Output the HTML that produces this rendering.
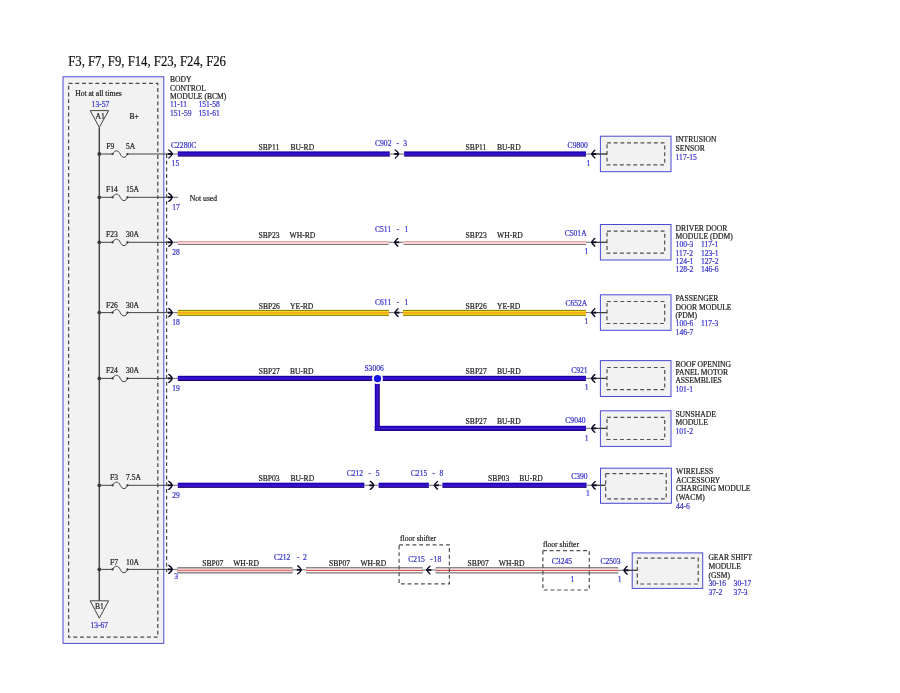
<!DOCTYPE html>
<html><head><meta charset="utf-8"><title>F3, F7, F9, F14, F23, F24, F26</title>
<style>
html,body{margin:0;padding:0;background:#fff;}
body{width:900px;height:693px;overflow:hidden;}
svg{display:block;font-family:"Liberation Serif","DejaVu Serif",serif;}
svg text{white-space:pre;}
</style></head><body>
<svg width="900" height="693" viewBox="0 0 900 693">
<defs>
<linearGradient id="gb" x1="0" y1="0" x2="0" y2="1"><stop offset="0" stop-color="#12009a"/><stop offset="0.22" stop-color="#1e06b4"/><stop offset="0.5" stop-color="#4016d6"/><stop offset="0.75" stop-color="#300eb4"/><stop offset="1" stop-color="#140056"/></linearGradient>
<linearGradient id="gbv" x1="0" y1="0" x2="1" y2="0"><stop offset="0" stop-color="#12009a"/><stop offset="0.22" stop-color="#1e06b4"/><stop offset="0.5" stop-color="#4016d6"/><stop offset="0.75" stop-color="#300eb4"/><stop offset="1" stop-color="#140056"/></linearGradient>
<linearGradient id="gy" x1="0" y1="0" x2="0" y2="1"><stop offset="0" stop-color="#8f8210"/><stop offset="0.2" stop-color="#e6c81a"/><stop offset="0.38" stop-color="#f6d818"/><stop offset="0.5" stop-color="#f0a21c"/><stop offset="0.62" stop-color="#f6d818"/><stop offset="0.8" stop-color="#e0c21a"/><stop offset="1" stop-color="#857810"/></linearGradient>
</defs>
<rect width="900" height="693" fill="#fff"/>
<text x="68.2" y="65.6" fill="#111" stroke="#111" stroke-width="0.2" font-size="14" textLength="157.8" lengthAdjust="spacingAndGlyphs">F3, F7, F9, F14, F23, F24, F26</text>
<rect x="63" y="76.8" width="100.8" height="566.6" fill="#f2f2f2" stroke="#4c4ad2" stroke-width="1"/>
<rect x="68.6" y="83.4" width="89.2" height="553.8" fill="none" stroke="#4a4a4a" stroke-width="1.25" stroke-dasharray="3.9 2.8"/>
<path d="M166.6 154V572" stroke="#4a4a4a" stroke-width="1.25" stroke-dasharray="3.9 2.8" fill="none"/>
<text x="75.2" y="95.6" fill="#222" stroke="#222" stroke-width="0.2" font-size="7.6" >Hot at all times</text>
<text x="91.6" y="106.8" fill="#3a36cc" stroke="#3a36cc" stroke-width="0.22" font-size="7.6" >13-57</text>
<text x="129.4" y="119.4" fill="#222" stroke="#222" stroke-width="0.2" font-size="7.6" >B+</text>
<path d="M90.2 110.6H108.6L99.3 127.4Z" fill="none" stroke="#444" stroke-width="1"/>
<text x="95.6" y="119" fill="#222" stroke="#222" stroke-width="0.2" font-size="7.6" >A1</text>
<path d="M99.3 127.4V600.8" stroke="#4a4a4a" stroke-width="1.5" fill="none"/>
<path d="M90.2 600.8H108.6L99.3 618.2Z" fill="none" stroke="#444" stroke-width="1"/>
<text x="94.9" y="608.6" fill="#222" stroke="#222" stroke-width="0.2" font-size="7.6" >B1</text>
<text x="90.4" y="628.1" fill="#3a36cc" stroke="#3a36cc" stroke-width="0.22" font-size="7.6" >13-67</text>
<text x="170" y="82.3" fill="#222" stroke="#222" stroke-width="0.2" font-size="7.6" >BODY</text>
<text x="170" y="90.7" fill="#222" stroke="#222" stroke-width="0.2" font-size="7.6" >CONTROL</text>
<text x="170" y="99" fill="#222" stroke="#222" stroke-width="0.2" font-size="7.6" >MODULE (BCM)</text>
<text x="170" y="107.2" fill="#3a36cc" stroke="#3a36cc" stroke-width="0.22" font-size="7.6" >11-11</text>
<text x="198.4" y="107.2" fill="#3a36cc" stroke="#3a36cc" stroke-width="0.22" font-size="7.6" >151-58</text>
<text x="170" y="115.6" fill="#3a36cc" stroke="#3a36cc" stroke-width="0.22" font-size="7.6" >151-59</text>
<text x="198.4" y="115.6" fill="#3a36cc" stroke="#3a36cc" stroke-width="0.22" font-size="7.6" >151-61</text>
<circle cx="99.3" cy="154.0" r="1.9" fill="#3a3a3a"/>
<path d="M99.3 154.0H112.6C114.5 149.8 118.5 149.8 120.2 154.0C122 158.4 126 158.4 127.4 154.0H168" stroke="#444" stroke-width="1" fill="none"/>
<circle cx="112.6" cy="154.0" r="1.1" fill="#333"/><circle cx="127.4" cy="154.0" r="1.1" fill="#333"/>
<text x="106.2" y="148.9" fill="#222" stroke="#222" stroke-width="0.2" font-size="7.6" >F9</text>
<text x="126" y="148.9" fill="#222" stroke="#222" stroke-width="0.2" font-size="7.6" >5A</text>
<path d="M167 154.0H178.2" stroke="#777" stroke-width="1.1" fill="none"/>
<path d="M167.8 154.0H172.7" stroke="#0a0a24" stroke-width="1.9" fill="none"/>
<path d="M168.8 150.0Q171.7 151.7 172.1 154.0Q171.7 156.3 168.8 158.0" stroke="#0a0a24" stroke-width="1.4" stroke-linecap="round" fill="none"/>
<text x="171.6" y="166.3" fill="#3a36cc" stroke="#3a36cc" stroke-width="0.22" font-size="7.6" >15</text>
<circle cx="99.3" cy="197.3" r="1.9" fill="#3a3a3a"/>
<path d="M99.3 197.3H112.6C114.5 193.10000000000002 118.5 193.10000000000002 120.2 197.3C122 201.70000000000002 126 201.70000000000002 127.4 197.3H168" stroke="#444" stroke-width="1" fill="none"/>
<circle cx="112.6" cy="197.3" r="1.1" fill="#333"/><circle cx="127.4" cy="197.3" r="1.1" fill="#333"/>
<text x="106" y="192.20000000000002" fill="#222" stroke="#222" stroke-width="0.2" font-size="7.6" >F14</text>
<text x="126" y="192.20000000000002" fill="#222" stroke="#222" stroke-width="0.2" font-size="7.6" >15A</text>
<path d="M167 197.3H178.2" stroke="#777" stroke-width="1.1" fill="none"/>
<path d="M167.8 197.3H172.7" stroke="#0a0a24" stroke-width="1.9" fill="none"/>
<path d="M168.8 193.3Q171.7 195.0 172.1 197.3Q171.7 199.60000000000002 168.8 201.3" stroke="#0a0a24" stroke-width="1.4" stroke-linecap="round" fill="none"/>
<text x="172.2" y="209.8" fill="#3a36cc" stroke="#3a36cc" stroke-width="0.22" font-size="7.6" >17</text>
<circle cx="99.3" cy="242.3" r="1.9" fill="#3a3a3a"/>
<path d="M99.3 242.3H112.6C114.5 238.10000000000002 118.5 238.10000000000002 120.2 242.3C122 246.70000000000002 126 246.70000000000002 127.4 242.3H168" stroke="#444" stroke-width="1" fill="none"/>
<circle cx="112.6" cy="242.3" r="1.1" fill="#333"/><circle cx="127.4" cy="242.3" r="1.1" fill="#333"/>
<text x="106" y="237.20000000000002" fill="#222" stroke="#222" stroke-width="0.2" font-size="7.6" >F23</text>
<text x="126" y="237.20000000000002" fill="#222" stroke="#222" stroke-width="0.2" font-size="7.6" >30A</text>
<path d="M167 242.3H178.2" stroke="#777" stroke-width="1.1" fill="none"/>
<path d="M167.8 242.3H172.7" stroke="#0a0a24" stroke-width="1.9" fill="none"/>
<path d="M168.8 238.3Q171.7 240.0 172.1 242.3Q171.7 244.60000000000002 168.8 246.3" stroke="#0a0a24" stroke-width="1.4" stroke-linecap="round" fill="none"/>
<text x="172.2" y="255.3" fill="#3a36cc" stroke="#3a36cc" stroke-width="0.22" font-size="7.6" >28</text>
<circle cx="99.3" cy="312.6" r="1.9" fill="#3a3a3a"/>
<path d="M99.3 312.6H112.6C114.5 308.40000000000003 118.5 308.40000000000003 120.2 312.6C122 317.0 126 317.0 127.4 312.6H168" stroke="#444" stroke-width="1" fill="none"/>
<circle cx="112.6" cy="312.6" r="1.1" fill="#333"/><circle cx="127.4" cy="312.6" r="1.1" fill="#333"/>
<text x="106" y="307.5" fill="#222" stroke="#222" stroke-width="0.2" font-size="7.6" >F26</text>
<text x="126" y="307.5" fill="#222" stroke="#222" stroke-width="0.2" font-size="7.6" >30A</text>
<path d="M167 312.6H178.2" stroke="#777" stroke-width="1.1" fill="none"/>
<path d="M167.8 312.6H172.7" stroke="#0a0a24" stroke-width="1.9" fill="none"/>
<path d="M168.8 308.6Q171.7 310.3 172.1 312.6Q171.7 314.90000000000003 168.8 316.6" stroke="#0a0a24" stroke-width="1.4" stroke-linecap="round" fill="none"/>
<text x="172.2" y="325.4" fill="#3a36cc" stroke="#3a36cc" stroke-width="0.22" font-size="7.6" >18</text>
<circle cx="99.3" cy="378.4" r="1.9" fill="#3a3a3a"/>
<path d="M99.3 378.4H112.6C114.5 374.2 118.5 374.2 120.2 378.4C122 382.79999999999995 126 382.79999999999995 127.4 378.4H168" stroke="#444" stroke-width="1" fill="none"/>
<circle cx="112.6" cy="378.4" r="1.1" fill="#333"/><circle cx="127.4" cy="378.4" r="1.1" fill="#333"/>
<text x="106" y="373.29999999999995" fill="#222" stroke="#222" stroke-width="0.2" font-size="7.6" >F24</text>
<text x="126" y="373.29999999999995" fill="#222" stroke="#222" stroke-width="0.2" font-size="7.6" >30A</text>
<path d="M167 378.4H178.2" stroke="#777" stroke-width="1.1" fill="none"/>
<path d="M167.8 378.4H172.7" stroke="#0a0a24" stroke-width="1.9" fill="none"/>
<path d="M168.8 374.4Q171.7 376.09999999999997 172.1 378.4Q171.7 380.7 168.8 382.4" stroke="#0a0a24" stroke-width="1.4" stroke-linecap="round" fill="none"/>
<text x="172.2" y="391.0" fill="#3a36cc" stroke="#3a36cc" stroke-width="0.22" font-size="7.6" >19</text>
<circle cx="99.3" cy="485.3" r="1.9" fill="#3a3a3a"/>
<path d="M99.3 485.3H112.6C114.5 481.1 118.5 481.1 120.2 485.3C122 489.7 126 489.7 127.4 485.3H168" stroke="#444" stroke-width="1" fill="none"/>
<circle cx="112.6" cy="485.3" r="1.1" fill="#333"/><circle cx="127.4" cy="485.3" r="1.1" fill="#333"/>
<text x="110" y="480.2" fill="#222" stroke="#222" stroke-width="0.2" font-size="7.6" >F3</text>
<text x="126" y="480.2" fill="#222" stroke="#222" stroke-width="0.2" font-size="7.6" >7.5A</text>
<path d="M167 485.3H178.2" stroke="#777" stroke-width="1.1" fill="none"/>
<path d="M167.8 485.3H172.7" stroke="#0a0a24" stroke-width="1.9" fill="none"/>
<path d="M168.8 481.3Q171.7 483.0 172.1 485.3Q171.7 487.6 168.8 489.3" stroke="#0a0a24" stroke-width="1.4" stroke-linecap="round" fill="none"/>
<text x="172.2" y="497.8" fill="#3a36cc" stroke="#3a36cc" stroke-width="0.22" font-size="7.6" >29</text>
<circle cx="99.3" cy="569.4" r="1.9" fill="#3a3a3a"/>
<path d="M99.3 569.4H112.6C114.5 565.1999999999999 118.5 565.1999999999999 120.2 569.4C122 573.8 126 573.8 127.4 569.4H168" stroke="#444" stroke-width="1" fill="none"/>
<circle cx="112.6" cy="569.4" r="1.1" fill="#333"/><circle cx="127.4" cy="569.4" r="1.1" fill="#333"/>
<text x="110" y="565.1" fill="#222" stroke="#222" stroke-width="0.2" font-size="7.6" >F7</text>
<text x="126" y="565.1" fill="#222" stroke="#222" stroke-width="0.2" font-size="7.6" >10A</text>
<path d="M167 569.4H178.2" stroke="#777" stroke-width="1.1" fill="none"/>
<path d="M167.8 569.4H172.7" stroke="#0a0a24" stroke-width="1.9" fill="none"/>
<path d="M168.8 565.4Q171.7 567.1 172.1 569.4Q171.7 571.6999999999999 168.8 573.4" stroke="#0a0a24" stroke-width="1.4" stroke-linecap="round" fill="none"/>
<text x="174.3" y="579.4" fill="#3a36cc" stroke="#3a36cc" stroke-width="0.22" font-size="7.6" >3</text>
<text x="171" y="147.8" fill="#3a36cc" stroke="#3a36cc" stroke-width="0.22" font-size="7.6" >C2280C</text>
<text x="189.8" y="200.6" fill="#222" stroke="#222" stroke-width="0.2" font-size="7.6" >Not used</text>
<rect x="177.8" y="151.4" width="212.0" height="5.2" fill="url(#gb)"/>
<path d="M389.8 154.0H404.1" stroke="#777" stroke-width="1.1" fill="none"/>
<path d="M394.2 154.0H399.09999999999997" stroke="#0a0a24" stroke-width="1.9" fill="none"/>
<path d="M395.2 150.0Q398.09999999999997 151.7 398.5 154.0Q398.09999999999997 156.3 395.2 158.0" stroke="#0a0a24" stroke-width="1.4" stroke-linecap="round" fill="none"/>
<rect x="404.1" y="151.4" width="181.89999999999998" height="5.2" fill="url(#gb)"/>
<text x="258.5" y="149.6" fill="#222" stroke="#222" stroke-width="0.2" font-size="7.6" >SBP11</text>
<text x="290.5" y="149.6" fill="#222" stroke="#222" stroke-width="0.2" font-size="7.6" >BU-RD</text>
<text x="375" y="145.6" fill="#3a36cc" stroke="#3a36cc" stroke-width="0.22" font-size="7.6" >C902</text>
<text x="396.4" y="145.6" fill="#3a36cc" stroke="#3a36cc" stroke-width="0.22" font-size="7.6" >-</text>
<text x="403.3" y="145.6" fill="#3a36cc" stroke="#3a36cc" stroke-width="0.22" font-size="7.6" >3</text>
<text x="465.6" y="149.6" fill="#222" stroke="#222" stroke-width="0.2" font-size="7.6" >SBP11</text>
<text x="497" y="149.6" fill="#222" stroke="#222" stroke-width="0.2" font-size="7.6" >BU-RD</text>
<text x="567.6" y="147.6" fill="#3a36cc" stroke="#3a36cc" stroke-width="0.22" font-size="7.6" >C9800</text>
<text x="586.6" y="165.6" fill="#3a36cc" stroke="#3a36cc" stroke-width="0.22" font-size="7.6" >1</text>
<rect x="600.4" y="136.2" width="70.6" height="35.5" fill="#f2f2f2" stroke="#4c4ad2" stroke-width="1"/>
<rect x="607.0" y="142.9" width="57.700000000000045" height="22.0" fill="none" stroke="#505050" stroke-width="1.2" stroke-dasharray="3.9 2.8"/>
<path d="M586 154.0H607" stroke="#777" stroke-width="1.1" fill="none"/>
<path d="M594 154.0H607" stroke="#3a3a3a" stroke-width="1.1" fill="none"/>
<path d="M591.3 154.0H596.2" stroke="#0a0a24" stroke-width="1.9" fill="none"/>
<path d="M594.8 150.2Q592.5 152.0 591.7 154.0Q592.5 156.0 594.8 157.8" stroke="#0a0a24" stroke-width="1.4" stroke-linecap="round" fill="none"/>
<text x="675.6" y="142.4" fill="#222" stroke="#222" stroke-width="0.2" font-size="7.6" >INTRUSION</text>
<text x="675.6" y="151" fill="#222" stroke="#222" stroke-width="0.2" font-size="7.6" >SENSOR</text>
<text x="675.6" y="159.6" fill="#3a36cc" stroke="#3a36cc" stroke-width="0.22" font-size="7.6" >117-15</text>
<rect x="177.8" y="241.0" width="210.8" height="3.2" fill="#f6d4d4"/>
<rect x="177.8" y="241.0" width="210.8" height="1.1" fill="#e8a2a2"/>
<rect x="177.8" y="244.10000000000002" width="210.8" height="0.8" fill="#5c5252"/>
<path d="M388.6 242.3H403.6" stroke="#777" stroke-width="1.1" fill="none"/>
<path d="M394.3 242.3H399.2" stroke="#0a0a24" stroke-width="1.9" fill="none"/>
<path d="M397.8 238.5Q395.5 240.3 394.7 242.3Q395.5 244.3 397.8 246.10000000000002" stroke="#0a0a24" stroke-width="1.4" stroke-linecap="round" fill="none"/>
<rect x="403.6" y="241.0" width="182.39999999999998" height="3.2" fill="#f6d4d4"/>
<rect x="403.6" y="241.0" width="182.39999999999998" height="1.1" fill="#e8a2a2"/>
<rect x="403.6" y="244.10000000000002" width="182.39999999999998" height="0.8" fill="#5c5252"/>
<text x="258.5" y="237.9" fill="#222" stroke="#222" stroke-width="0.2" font-size="7.6" >SBP23</text>
<text x="289.5" y="237.9" fill="#222" stroke="#222" stroke-width="0.2" font-size="7.6" >WH-RD</text>
<text x="375" y="232.4" fill="#3a36cc" stroke="#3a36cc" stroke-width="0.22" font-size="7.6" >C511</text>
<text x="396.8" y="232.4" fill="#3a36cc" stroke="#3a36cc" stroke-width="0.22" font-size="7.6" >-</text>
<text x="404.4" y="232.4" fill="#3a36cc" stroke="#3a36cc" stroke-width="0.22" font-size="7.6" >1</text>
<text x="465.6" y="237.9" fill="#222" stroke="#222" stroke-width="0.2" font-size="7.6" >SBP23</text>
<text x="497" y="237.9" fill="#222" stroke="#222" stroke-width="0.2" font-size="7.6" >WH-RD</text>
<text x="564.7" y="235.70000000000002" fill="#3a36cc" stroke="#3a36cc" stroke-width="0.22" font-size="7.6" >C501A</text>
<text x="584.6" y="253.70000000000002" fill="#3a36cc" stroke="#3a36cc" stroke-width="0.22" font-size="7.6" >1</text>
<rect x="600.4" y="224.5" width="70.6" height="35.5" fill="#f2f2f2" stroke="#4c4ad2" stroke-width="1"/>
<rect x="607.0" y="231.20000000000002" width="57.700000000000045" height="22.0" fill="none" stroke="#505050" stroke-width="1.2" stroke-dasharray="3.9 2.8"/>
<path d="M586 242.3H607" stroke="#777" stroke-width="1.1" fill="none"/>
<path d="M594 242.3H607" stroke="#3a3a3a" stroke-width="1.1" fill="none"/>
<path d="M591.3 242.3H596.2" stroke="#0a0a24" stroke-width="1.9" fill="none"/>
<path d="M594.8 238.5Q592.5 240.3 591.7 242.3Q592.5 244.3 594.8 246.10000000000002" stroke="#0a0a24" stroke-width="1.4" stroke-linecap="round" fill="none"/>
<text x="675.6" y="230.8" fill="#222" stroke="#222" stroke-width="0.2" font-size="7.6" >DRIVER DOOR</text>
<text x="675.6" y="239.2" fill="#222" stroke="#222" stroke-width="0.2" font-size="7.6" >MODULE (DDM)</text>
<text x="675.6" y="247.3" fill="#3a36cc" stroke="#3a36cc" stroke-width="0.22" font-size="7.6" >100-3</text>
<text x="700.9" y="247.3" fill="#3a36cc" stroke="#3a36cc" stroke-width="0.22" font-size="7.6" >117-1</text>
<text x="675.6" y="255.65" fill="#3a36cc" stroke="#3a36cc" stroke-width="0.22" font-size="7.6" >117-2</text>
<text x="700.9" y="255.65" fill="#3a36cc" stroke="#3a36cc" stroke-width="0.22" font-size="7.6" >123-1</text>
<text x="675.6" y="264.0" fill="#3a36cc" stroke="#3a36cc" stroke-width="0.22" font-size="7.6" >124-1</text>
<text x="700.9" y="264.0" fill="#3a36cc" stroke="#3a36cc" stroke-width="0.22" font-size="7.6" >127-2</text>
<text x="675.6" y="272.35" fill="#3a36cc" stroke="#3a36cc" stroke-width="0.22" font-size="7.6" >128-2</text>
<text x="700.9" y="272.35" fill="#3a36cc" stroke="#3a36cc" stroke-width="0.22" font-size="7.6" >146-6</text>
<rect x="177.8" y="309.90000000000003" width="211.09999999999997" height="6.0" fill="#857a12"/>
<rect x="177.8" y="310.90000000000003" width="211.09999999999997" height="4.0" fill="#f6da1a"/>
<rect x="177.8" y="312.20000000000005" width="211.09999999999997" height="1.4" fill="#ee9e1c"/>
<path d="M388.9 312.6H403" stroke="#777" stroke-width="1.1" fill="none"/>
<path d="M394.5 312.6H399.4" stroke="#0a0a24" stroke-width="1.9" fill="none"/>
<path d="M398.0 308.8Q395.7 310.6 394.9 312.6Q395.7 314.6 398.0 316.40000000000003" stroke="#0a0a24" stroke-width="1.4" stroke-linecap="round" fill="none"/>
<rect x="403" y="309.90000000000003" width="183" height="6.0" fill="#857a12"/>
<rect x="403" y="310.90000000000003" width="183" height="4.0" fill="#f6da1a"/>
<rect x="403" y="312.20000000000005" width="183" height="1.4" fill="#ee9e1c"/>
<text x="258.7" y="308.70000000000005" fill="#222" stroke="#222" stroke-width="0.2" font-size="7.6" >SBP26</text>
<text x="290.1" y="308.70000000000005" fill="#222" stroke="#222" stroke-width="0.2" font-size="7.6" >YE-RD</text>
<text x="375" y="304.5" fill="#3a36cc" stroke="#3a36cc" stroke-width="0.22" font-size="7.6" >C611</text>
<text x="396.8" y="304.5" fill="#3a36cc" stroke="#3a36cc" stroke-width="0.22" font-size="7.6" >-</text>
<text x="404.6" y="304.5" fill="#3a36cc" stroke="#3a36cc" stroke-width="0.22" font-size="7.6" >1</text>
<text x="465.6" y="308.70000000000005" fill="#222" stroke="#222" stroke-width="0.2" font-size="7.6" >SBP26</text>
<text x="497" y="308.70000000000005" fill="#222" stroke="#222" stroke-width="0.2" font-size="7.6" >YE-RD</text>
<text x="565.4" y="306.20000000000005" fill="#3a36cc" stroke="#3a36cc" stroke-width="0.22" font-size="7.6" >C652A</text>
<text x="584.4" y="324.0" fill="#3a36cc" stroke="#3a36cc" stroke-width="0.22" font-size="7.6" >1</text>
<rect x="600.4" y="294.8" width="70.6" height="35.5" fill="#f2f2f2" stroke="#4c4ad2" stroke-width="1"/>
<rect x="607.0" y="301.5" width="57.700000000000045" height="22.0" fill="none" stroke="#505050" stroke-width="1.2" stroke-dasharray="3.9 2.8"/>
<path d="M586 312.6H607" stroke="#777" stroke-width="1.1" fill="none"/>
<path d="M594 312.6H607" stroke="#3a3a3a" stroke-width="1.1" fill="none"/>
<path d="M591.3 312.6H596.2" stroke="#0a0a24" stroke-width="1.9" fill="none"/>
<path d="M594.8 308.8Q592.5 310.6 591.7 312.6Q592.5 314.6 594.8 316.40000000000003" stroke="#0a0a24" stroke-width="1.4" stroke-linecap="round" fill="none"/>
<text x="675.6" y="301" fill="#222" stroke="#222" stroke-width="0.2" font-size="7.6" >PASSENGER</text>
<text x="675.6" y="309.9" fill="#222" stroke="#222" stroke-width="0.2" font-size="7.6" >DOOR MODULE</text>
<text x="675.6" y="318.2" fill="#222" stroke="#222" stroke-width="0.2" font-size="7.6" >(PDM)</text>
<text x="675.6" y="326.3" fill="#3a36cc" stroke="#3a36cc" stroke-width="0.22" font-size="7.6" >100-6</text>
<text x="700.9" y="326.3" fill="#3a36cc" stroke="#3a36cc" stroke-width="0.22" font-size="7.6" >117-3</text>
<text x="675.6" y="334.9" fill="#3a36cc" stroke="#3a36cc" stroke-width="0.22" font-size="7.6" >146-7</text>
<rect x="177.8" y="375.79999999999995" width="408.2" height="5.2" fill="url(#gb)"/>
<rect x="374.8" y="378.4" width="5.0" height="52.6" fill="url(#gbv)"/>
<rect x="377.3" y="425.79999999999995" width="208.7" height="5.2" fill="url(#gb)"/>
<path d="M374.8 425.79999999999995L379.8 431.0H374.8Z" fill="url(#gbv)"/>
<circle cx="377.5" cy="378.59999999999997" r="4.6" fill="#1414e6" stroke="#fff" stroke-width="1.8"/>
<text x="258.7" y="374.29999999999995" fill="#222" stroke="#222" stroke-width="0.2" font-size="7.6" >SBP27</text>
<text x="289.9" y="374.29999999999995" fill="#222" stroke="#222" stroke-width="0.2" font-size="7.6" >BU-RD</text>
<text x="364.4" y="371.09999999999997" fill="#3a36cc" stroke="#3a36cc" stroke-width="0.22" font-size="7.6" >S3006</text>
<text x="465.6" y="374.0" fill="#222" stroke="#222" stroke-width="0.2" font-size="7.6" >SBP27</text>
<text x="497" y="374.0" fill="#222" stroke="#222" stroke-width="0.2" font-size="7.6" >BU-RD</text>
<text x="571.2" y="372.5" fill="#3a36cc" stroke="#3a36cc" stroke-width="0.22" font-size="7.6" >C921</text>
<text x="584.8" y="390.3" fill="#3a36cc" stroke="#3a36cc" stroke-width="0.22" font-size="7.6" >1</text>
<rect x="600.4" y="360.59999999999997" width="70.6" height="35.900000000000006" fill="#f2f2f2" stroke="#4c4ad2" stroke-width="1"/>
<rect x="607.0" y="367.5" width="57.700000000000045" height="22.200000000000003" fill="none" stroke="#505050" stroke-width="1.2" stroke-dasharray="3.9 2.8"/>
<path d="M586 378.4H607" stroke="#777" stroke-width="1.1" fill="none"/>
<path d="M594 378.4H607" stroke="#3a3a3a" stroke-width="1.1" fill="none"/>
<path d="M591.3 378.4H596.2" stroke="#0a0a24" stroke-width="1.9" fill="none"/>
<path d="M594.8 374.59999999999997Q592.5 376.4 591.7 378.4Q592.5 380.4 594.8 382.2" stroke="#0a0a24" stroke-width="1.4" stroke-linecap="round" fill="none"/>
<text x="675.4" y="366.6" fill="#222" stroke="#222" stroke-width="0.2" font-size="7.6" >ROOF OPENING</text>
<text x="675.4" y="375.1" fill="#222" stroke="#222" stroke-width="0.2" font-size="7.6" >PANEL MOTOR</text>
<text x="675.4" y="383.4" fill="#222" stroke="#222" stroke-width="0.2" font-size="7.6" >ASSEMBLIES</text>
<text x="675.4" y="391.8" fill="#3a36cc" stroke="#3a36cc" stroke-width="0.22" font-size="7.6" >101-1</text>
<text x="465.6" y="424.2" fill="#222" stroke="#222" stroke-width="0.2" font-size="7.6" >SBP27</text>
<text x="497" y="424.2" fill="#222" stroke="#222" stroke-width="0.2" font-size="7.6" >BU-RD</text>
<text x="565.3" y="422.6" fill="#3a36cc" stroke="#3a36cc" stroke-width="0.22" font-size="7.6" >C9040</text>
<text x="584.8" y="440.7" fill="#3a36cc" stroke="#3a36cc" stroke-width="0.22" font-size="7.6" >1</text>
<rect x="600.4" y="410.79999999999995" width="70.6" height="35.6" fill="#f2f2f2" stroke="#4c4ad2" stroke-width="1"/>
<rect x="607.0" y="417.4" width="57.700000000000045" height="22.1" fill="none" stroke="#505050" stroke-width="1.2" stroke-dasharray="3.9 2.8"/>
<path d="M586 428.4H607" stroke="#777" stroke-width="1.1" fill="none"/>
<path d="M594 428.4H607" stroke="#3a3a3a" stroke-width="1.1" fill="none"/>
<path d="M591.3 428.4H596.2" stroke="#0a0a24" stroke-width="1.9" fill="none"/>
<path d="M594.8 424.59999999999997Q592.5 426.4 591.7 428.4Q592.5 430.4 594.8 432.2" stroke="#0a0a24" stroke-width="1.4" stroke-linecap="round" fill="none"/>
<text x="675.4" y="416.8" fill="#222" stroke="#222" stroke-width="0.2" font-size="7.6" >SUNSHADE</text>
<text x="675.4" y="425.4" fill="#222" stroke="#222" stroke-width="0.2" font-size="7.6" >MODULE</text>
<text x="675.4" y="433.5" fill="#3a36cc" stroke="#3a36cc" stroke-width="0.22" font-size="7.6" >101-2</text>
<rect x="177.8" y="482.7" width="186.59999999999997" height="5.2" fill="url(#gb)"/>
<path d="M364.4 485.3H378.6" stroke="#777" stroke-width="1.1" fill="none"/>
<path d="M369.3 485.3H374.2" stroke="#0a0a24" stroke-width="1.9" fill="none"/>
<path d="M370.3 481.3Q373.2 483.0 373.6 485.3Q373.2 487.6 370.3 489.3" stroke="#0a0a24" stroke-width="1.4" stroke-linecap="round" fill="none"/>
<rect x="378.6" y="482.7" width="50.299999999999955" height="5.2" fill="url(#gb)"/>
<path d="M428.9 485.3H442.4" stroke="#777" stroke-width="1.1" fill="none"/>
<path d="M434.0 485.3H438.9" stroke="#0a0a24" stroke-width="1.9" fill="none"/>
<path d="M437.5 481.5Q435.2 483.3 434.4 485.3Q435.2 487.3 437.5 489.1" stroke="#0a0a24" stroke-width="1.4" stroke-linecap="round" fill="none"/>
<rect x="442.4" y="482.7" width="144.20000000000005" height="5.2" fill="url(#gb)"/>
<text x="258.5" y="480.90000000000003" fill="#222" stroke="#222" stroke-width="0.2" font-size="7.6" >SBP03</text>
<text x="290.5" y="480.90000000000003" fill="#222" stroke="#222" stroke-width="0.2" font-size="7.6" >BU-RD</text>
<text x="346.7" y="475.7" fill="#3a36cc" stroke="#3a36cc" stroke-width="0.22" font-size="7.6" >C212</text>
<text x="368.6" y="475.7" fill="#3a36cc" stroke="#3a36cc" stroke-width="0.22" font-size="7.6" >-</text>
<text x="375.8" y="475.7" fill="#3a36cc" stroke="#3a36cc" stroke-width="0.22" font-size="7.6" >5</text>
<text x="410.8" y="475.7" fill="#3a36cc" stroke="#3a36cc" stroke-width="0.22" font-size="7.6" >C215</text>
<text x="432.6" y="475.7" fill="#3a36cc" stroke="#3a36cc" stroke-width="0.22" font-size="7.6" >-</text>
<text x="439.6" y="475.7" fill="#3a36cc" stroke="#3a36cc" stroke-width="0.22" font-size="7.6" >8</text>
<text x="488.1" y="480.90000000000003" fill="#222" stroke="#222" stroke-width="0.2" font-size="7.6" >SBP03</text>
<text x="519.2" y="480.90000000000003" fill="#222" stroke="#222" stroke-width="0.2" font-size="7.6" >BU-RD</text>
<text x="571.2" y="479" fill="#3a36cc" stroke="#3a36cc" stroke-width="0.22" font-size="7.6" >C390</text>
<text x="585.9" y="495.8" fill="#3a36cc" stroke="#3a36cc" stroke-width="0.22" font-size="7.6" >1</text>
<rect x="600.5" y="468.2" width="70.9" height="35.1" fill="#f2f2f2" stroke="#4c4ad2" stroke-width="1"/>
<rect x="605.7" y="473.6" width="60.5" height="25.2" fill="none" stroke="#505050" stroke-width="1.2" stroke-dasharray="3.9 2.8"/>
<path d="M586.6 485.3H605.7" stroke="#777" stroke-width="1.1" fill="none"/>
<path d="M594.4 485.3H605.7" stroke="#3a3a3a" stroke-width="1.1" fill="none"/>
<path d="M591.6999999999999 485.3H596.6" stroke="#0a0a24" stroke-width="1.9" fill="none"/>
<path d="M595.1999999999999 481.5Q592.9 483.3 592.1 485.3Q592.9 487.3 595.1999999999999 489.1" stroke="#0a0a24" stroke-width="1.4" stroke-linecap="round" fill="none"/>
<text x="676" y="473.6" fill="#222" stroke="#222" stroke-width="0.2" font-size="7.6" >WIRELESS</text>
<text x="676" y="482.8" fill="#222" stroke="#222" stroke-width="0.2" font-size="7.6" >ACCESSORY</text>
<text x="676" y="490.8" fill="#222" stroke="#222" stroke-width="0.2" font-size="7.6" >CHARGING MODULE</text>
<text x="676" y="499.7" fill="#222" stroke="#222" stroke-width="0.2" font-size="7.6" >(WACM)</text>
<text x="676" y="508.7" fill="#3a36cc" stroke="#3a36cc" stroke-width="0.22" font-size="7.6" >44-6</text>
<rect x="177.4" y="567.3" width="115.1" height="6.1" fill="#585858"/>
<rect x="177.4" y="568.3" width="115.1" height="4.1" fill="#f6d8d8"/>
<rect x="177.4" y="569.8499999999999" width="115.1" height="1.0" fill="#e06a6a"/>
<path d="M292.5 569.8H306.1" stroke="#777" stroke-width="1.1" fill="none"/>
<path d="M296.8 569.8H301.7" stroke="#0a0a24" stroke-width="1.9" fill="none"/>
<path d="M297.8 565.8Q300.7 567.5 301.1 569.8Q300.7 572.0999999999999 297.8 573.8" stroke="#0a0a24" stroke-width="1.4" stroke-linecap="round" fill="none"/>
<rect x="306.1" y="567.3" width="116.5" height="6.1" fill="#585858"/>
<rect x="306.1" y="568.3" width="116.5" height="4.1" fill="#fff4f4"/>
<rect x="306.1" y="569.8499999999999" width="116.5" height="1.0" fill="#cf3838"/>
<path d="M422.6 570.0H435.6" stroke="#777" stroke-width="1.1" fill="none"/>
<path d="M426.40000000000003 570.0H431.3" stroke="#0a0a24" stroke-width="1.9" fill="none"/>
<path d="M429.90000000000003 566.2Q427.6 568.0 426.8 570.0Q427.6 572.0 429.90000000000003 573.8" stroke="#0a0a24" stroke-width="1.4" stroke-linecap="round" fill="none"/>
<rect x="435.6" y="567.3" width="182.60000000000002" height="6.1" fill="#585858"/>
<rect x="435.6" y="568.3" width="182.60000000000002" height="4.1" fill="#fff4f4"/>
<rect x="435.6" y="569.8499999999999" width="182.60000000000002" height="1.0" fill="#cf3838"/>
<text x="202.2" y="565.8" fill="#222" stroke="#222" stroke-width="0.2" font-size="7.6" >SBP07</text>
<text x="233.2" y="565.8" fill="#222" stroke="#222" stroke-width="0.2" font-size="7.6" >WH-RD</text>
<text x="273.9" y="559.9" fill="#3a36cc" stroke="#3a36cc" stroke-width="0.22" font-size="7.6" >C212</text>
<text x="296.8" y="559.9" fill="#3a36cc" stroke="#3a36cc" stroke-width="0.22" font-size="7.6" >-</text>
<text x="303" y="559.9" fill="#3a36cc" stroke="#3a36cc" stroke-width="0.22" font-size="7.6" >2</text>
<text x="329" y="565.8" fill="#222" stroke="#222" stroke-width="0.2" font-size="7.6" >SBP07</text>
<text x="360.4" y="565.8" fill="#222" stroke="#222" stroke-width="0.2" font-size="7.6" >WH-RD</text>
<rect x="399.1" y="544.8" width="50.3" height="39.1" fill="none" stroke="#505050" stroke-width="1.2" stroke-dasharray="3.9 2.8"/>
<text x="400" y="540.5" fill="#222" stroke="#222" stroke-width="0.2" font-size="7.6" >floor shifter</text>
<text x="408.3" y="562" fill="#3a36cc" stroke="#3a36cc" stroke-width="0.22" font-size="7.6" >C215</text>
<text x="430.3" y="562" fill="#3a36cc" stroke="#3a36cc" stroke-width="0.22" font-size="7.6" >-</text>
<text x="433.6" y="562" fill="#3a36cc" stroke="#3a36cc" stroke-width="0.22" font-size="7.6" >18</text>
<text x="467.6" y="565.8" fill="#222" stroke="#222" stroke-width="0.2" font-size="7.6" >SBP07</text>
<text x="498.8" y="565.8" fill="#222" stroke="#222" stroke-width="0.2" font-size="7.6" >WH-RD</text>
<rect x="542.9" y="550.7" width="46.4" height="39.3" fill="none" stroke="#505050" stroke-width="1.2" stroke-dasharray="3.9 2.8"/>
<text x="542.9" y="546.7" fill="#222" stroke="#222" stroke-width="0.2" font-size="7.6" >floor shifter</text>
<text x="551.8" y="564.4" fill="#3a36cc" stroke="#3a36cc" stroke-width="0.22" font-size="7.6" >C3245</text>
<text x="570.4" y="581.6" fill="#3a36cc" stroke="#3a36cc" stroke-width="0.22" font-size="7.6" >1</text>
<text x="600.4" y="564.4" fill="#3a36cc" stroke="#3a36cc" stroke-width="0.22" font-size="7.6" >C2503</text>
<text x="617.8" y="581.6" fill="#3a36cc" stroke="#3a36cc" stroke-width="0.22" font-size="7.6" >1</text>
<rect x="632.2" y="552.9" width="70.5" height="35.5" fill="#f2f2f2" stroke="#4c4ad2" stroke-width="1"/>
<rect x="637.3" y="558.2" width="60.9" height="25.8" fill="none" stroke="#505050" stroke-width="1.2" stroke-dasharray="3.9 2.8"/>
<path d="M618.2 570.3H637.3" stroke="#777" stroke-width="1.1" fill="none"/>
<path d="M626.3 570.3H637.3" stroke="#3a3a3a" stroke-width="1.1" fill="none"/>
<path d="M623.5999999999999 570.3H628.5" stroke="#0a0a24" stroke-width="1.9" fill="none"/>
<path d="M627.0999999999999 566.5Q624.8 568.3 624.0 570.3Q624.8 572.3 627.0999999999999 574.0999999999999" stroke="#0a0a24" stroke-width="1.4" stroke-linecap="round" fill="none"/>
<text x="708.4" y="560.1" fill="#222" stroke="#222" stroke-width="0.2" font-size="7.6" >GEAR SHIFT</text>
<text x="708.4" y="568.8" fill="#222" stroke="#222" stroke-width="0.2" font-size="7.6" >MODULE</text>
<text x="708.4" y="577.7" fill="#222" stroke="#222" stroke-width="0.2" font-size="7.6" >(GSM)</text>
<text x="708.4" y="586.2" fill="#3a36cc" stroke="#3a36cc" stroke-width="0.22" font-size="7.6" >30-16</text>
<text x="733.6" y="586.2" fill="#3a36cc" stroke="#3a36cc" stroke-width="0.22" font-size="7.6" >30-17</text>
<text x="708.4" y="594.9" fill="#3a36cc" stroke="#3a36cc" stroke-width="0.22" font-size="7.6" >37-2</text>
<text x="733.6" y="594.9" fill="#3a36cc" stroke="#3a36cc" stroke-width="0.22" font-size="7.6" >37-3</text>
</svg>
</body></html>
